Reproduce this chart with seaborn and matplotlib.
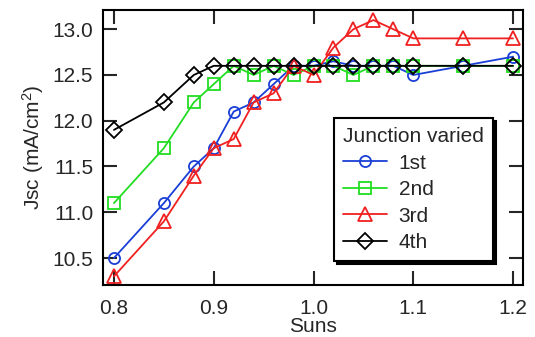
import matplotlib
matplotlib.use("Agg")
import matplotlib.pyplot as plt
import seaborn as sns
import pandas as pd

suns = [0.80, 0.85, 0.88, 0.90, 0.92, 0.94, 0.96, 0.98, 1.00, 1.02, 1.04, 1.06, 1.08, 1.10, 1.15, 1.20]
jsc_1st = [10.5, 11.1, 11.5, 11.7, 12.1, 12.2, 12.4, 12.6, 12.6, 12.65, 12.6, 12.6, 12.6, 12.5, 12.6, 12.7]
jsc_2nd = [11.1, 11.7, 12.2, 12.4, 12.6, 12.5, 12.6, 12.5, 12.6, 12.6, 12.5, 12.6, 12.6, 12.6, 12.6, 12.6]
jsc_3rd = [10.3, 10.9, 11.4, 11.7, 11.8, 12.2, 12.3, 12.6, 12.5, 12.8, 13.0, 13.1, 13.0, 12.9, 12.9, 12.9]
jsc_4th = [11.9, 12.2, 12.5, 12.6, 12.6, 12.6, 12.6, 12.6, 12.6, 12.6, 12.6, 12.6, 12.6, 12.6, 12.6, 12.6]
series_labels = ["1st", "2nd", "3rd", "4th"]
xticks = [0.8, 0.9, 1.0, 1.1, 1.2]
yticks = [10.5, 11.0, 11.5, 12.0, 12.5, 13.0]

sns.set_theme(style="ticks")
plt.rcParams["font.family"] = ["Liberation Sans", "DejaVu Sans"]
plt.rcParams["mathtext.fontset"] = "custom"
plt.rcParams["mathtext.rm"] = "Liberation Sans"
plt.rcParams["mathtext.it"] = "Liberation Sans"

fig = plt.figure(figsize=(5.35, 3.37), dpi=100)
ax = fig.add_axes([0.1925, 0.1543, 0.7851, 0.816])

styles = [
    ("#1a3fd6", "o", 8),
    ("#22dd22", "s", 8),
    ("#f02020", "^", 9.5),
    ("#000000", "D", 8),
]
all_y = [jsc_1st, jsc_2nd, jsc_3rd, jsc_4th]
for lab, ys, (col, mk, ms) in zip(series_labels, all_y, styles):
    df = pd.DataFrame({"Suns": suns, "Jsc": ys})
    sns.lineplot(data=df, x="Suns", y="Jsc", ax=ax, color=col, marker=mk,
                 markersize=ms, mfc="none", mec=col, mew=1.3, lw=1.3,
                 label=lab, estimator=None, sort=False)

ax.set_xlim(0.789, 1.21)
ax.set_ylim(10.205, 13.21)
ax.set_xticks(xticks)
ax.set_xticklabels([f"{v:.1f}" for v in xticks])
ax.set_yticks(yticks)
ax.set_yticklabels([f"{v:.1f}" for v in yticks])
ax.tick_params(direction="in", length=10, width=1.5, labelsize=15,
               top=True, right=True, labeltop=False, labelright=False)
ax.tick_params(axis="x", pad=10)
ax.tick_params(axis="y", pad=7)
for s in ax.spines.values():
    s.set_linewidth(1.5)
    s.set_color("black")
    s.set_visible(True)

ax.set_xlabel("Suns", fontsize=15, labelpad=-1)
ax.set_ylabel("Jsc (mA/cm$^2$)", fontsize=15, labelpad=5)

leg = ax.legend(title="Junction varied", loc="upper left",
                bbox_to_anchor=(0.55, 0.607), borderaxespad=0,
                fontsize=15, title_fontsize=15, frameon=True, fancybox=False,
                edgecolor="black", framealpha=1, handlelength=2.1,
                labelspacing=0.36, handletextpad=0.57, borderpad=0.43,
                shadow={"color": "black", "alpha": 1.0},
                alignment="left")
leg.get_frame().set_linewidth(1.5)

fig.savefig("out.png", dpi=100)
